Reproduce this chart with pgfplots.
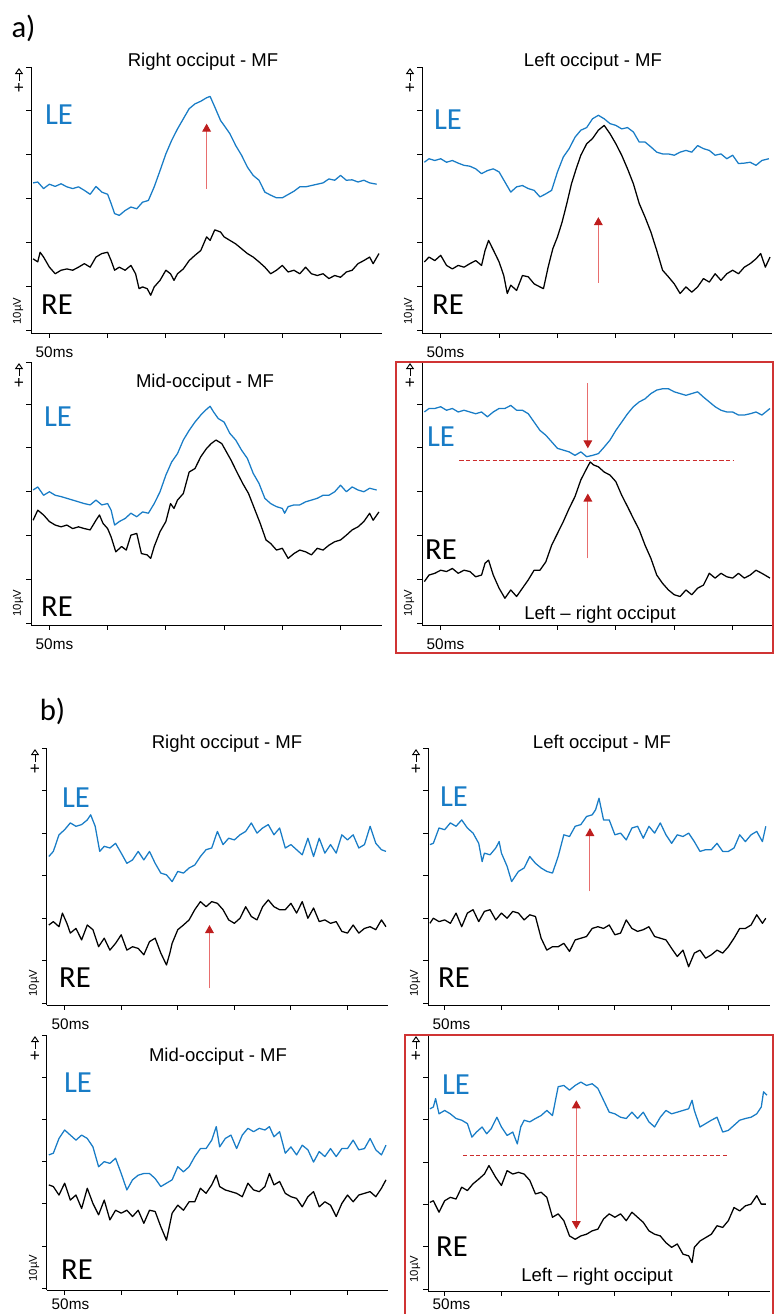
\documentclass[border=0pt]{standalone}
\usepackage{pgfplots}
\pgfplotsset{compat=1.18}
\usepackage{fontspec}
\setmainfont{Liberation Sans}
\newfontfamily\calib{Carlito}
\usetikzlibrary{arrows.meta}

\definecolor{leblue}{RGB}{24,124,198}
\definecolor{arrred}{RGB}{232,110,110}
\definecolor{headred}{RGB}{190,30,30}
\definecolor{dashred}{RGB}{205,45,45}
\definecolor{boxred}{RGB}{208,52,52}

\pgfplotsset{
  eeg/.style={scale only axis, anchor=south west,
    axis x line*=bottom, axis y line*=left,
    xtick={50,100,150,200,250,300}, ytick={0,1,2,3,4,5,6},
    xticklabels={}, yticklabels={},
    tick align=outside, major tick length=3.4pt,
    axis line style={line width=0.75pt},
    every tick/.append style={line width=0.75pt, black},
    clip=false},
  le/.style={leblue, line width=0.95pt, line join=round},
  re/.style={black, line width=0.95pt, line join=round},
}
\tikzset{
  redarrow/.style={arrred, line width=0.8pt, -{Triangle[length=6pt,width=6.5pt,color=headred]}},
  reddash/.style={dashred, line width=0.9pt, dash pattern=on 3.2pt off 1.8pt},
}

% + arrow, 10uV and 50ms marks of one panel: left x, top y, bottom y, offset of 50ms (px)
\newcommand{\deco}[4]{%
  \draw[-{Triangle[open,length=4.5pt,width=6pt]}, line width=0.7pt] (#1-12,#2+14) -- (#1-12,#2+1);
  \node[font=\fontsize{13}{13}\selectfont] at (#1-12,#2+21) {+};
  \node[rotate=90, font=\fontsize{8.5}{9}\selectfont] at (#1-13,#3-22) {10µV};
  \node[anchor=west, font=\fontsize{11.5}{12}\selectfont] at (#1,#3+#4) {50ms};
}
\newcommand{\ttl}[3]{\node[font=\fontsize{13.9}{14}\selectfont] at (#1,#2) {#3};}
\newcommand{\lab}[4]{\node[font=\calib\fontsize{23}{23}\selectfont, text=#4] at (#1,#2) {#3};}

\begin{document}
\begin{tikzpicture}

% ---------- a1 Right occiput ----------
\begin{axis}[eeg, at={(23.25pt,-249.75pt)}, width=263.25pt, height=199.5pt,
  xmin=34.2, xmax=335.6, ymin=-0.06, ymax=6]
\addplot[le] coordinates {(36,3.36)(40,3.38)(45,3.23)(50,3.33)(55,3.28)(60,3.34)(65,3.27)(70,3.23)(75,3.27)(80,3.19)(85,3.10)(90,3.28)(95,3.15)(100,3.10)(103,2.89)(106,2.66)(110,2.62)(115,2.73)(120,2.81)(125,2.77)(130,2.92)(135,2.96)(140,3.27)(145,3.64)(150,4.02)(155,4.33)(160,4.59)(165,4.82)(170,5.05)(175,5.16)(180,5.22)(185,5.30)(188,5.33)(192,5.09)(197,4.78)(200,4.67)(205,4.48)(210,4.21)(215,3.99)(220,3.72)(225,3.53)(230,3.42)(235,3.15)(240,3.08)(245,3.02)(250,3.02)(254,3.08)(260,3.17)(265,3.27)(270,3.27)(275,3.30)(280,3.33)(285,3.36)(290,3.45)(295,3.42)(300,3.53)(305,3.42)(310,3.43)(315,3.38)(320,3.42)(325,3.36)(331,3.33)};
\addplot[re] coordinates {(36,1.63)(40,1.56)(42,1.78)(45,1.67)(50,1.44)(55,1.29)(60,1.37)(65,1.40)(70,1.37)(75,1.44)(80,1.52)(85,1.44)(90,1.67)(95,1.75)(100,1.78)(103,1.59)(106,1.37)(110,1.44)(115,1.37)(120,1.48)(124,1.29)(127,0.95)(130,0.99)(134,0.95)(137,0.80)(140,0.99)(145,1.14)(150,1.37)(154,1.29)(157,1.14)(160,1.29)(165,1.40)(170,1.59)(175,1.71)(180,1.82)(185,2.13)(188,2.05)(192,2.29)(197,2.24)(200,2.13)(205,2.05)(210,1.97)(215,1.86)(220,1.75)(225,1.67)(230,1.56)(235,1.44)(240,1.29)(245,1.37)(250,1.48)(255,1.33)(260,1.37)(265,1.29)(270,1.44)(275,1.29)(280,1.25)(285,1.29)(290,1.18)(295,1.25)(300,1.21)(305,1.33)(310,1.37)(315,1.52)(320,1.59)(325,1.67)(328,1.52)(333,1.75)};
\draw[redarrow] (axis cs:185,3.23) -- (axis cs:185,4.71);
\end{axis}

% ---------- a2 Left occiput ----------
\begin{axis}[eeg, at={(316.5pt,-249.75pt)}, width=262.5pt, height=199.5pt,
  xmin=34.0, xmax=333.7, ymin=-0.06, ymax=6]
\addplot[le] coordinates {(36,3.83)(40,3.91)(45,3.87)(50,3.91)(55,3.83)(60,3.87)(65,3.81)(70,3.76)(75,3.74)(80,3.68)(85,3.57)(90,3.64)(95,3.68)(100,3.61)(105,3.38)(110,3.15)(115,3.27)(120,3.30)(125,3.23)(130,3.19)(135,3.04)(140,3.11)(145,3.19)(150,3.61)(155,3.95)(160,4.14)(165,4.40)(170,4.56)(175,4.62)(180,4.82)(185,4.90)(190,4.82)(195,4.71)(200,4.67)(205,4.59)(210,4.62)(215,4.52)(220,4.29)(225,4.29)(230,4.18)(235,4.06)(240,4.02)(245,4.02)(250,3.99)(255,4.06)(260,4.10)(265,4.06)(270,4.21)(275,4.14)(280,4.10)(285,3.99)(290,4.02)(295,3.91)(300,3.99)(305,3.80)(310,3.81)(315,3.83)(320,3.76)(325,3.87)(331,3.91)};
\addplot[re] coordinates {(36,1.56)(40,1.67)(45,1.59)(50,1.71)(55,1.48)(60,1.40)(65,1.48)(70,1.44)(75,1.52)(80,1.59)(85,1.48)(88,1.82)(91,2.05)(96,1.78)(100,1.56)(104,1.25)(107,0.84)(110,1.03)(115,0.91)(120,1.25)(125,1.22)(130,1.06)(135,0.99)(138,0.95)(142,1.44)(146,1.86)(150,2.13)(154,2.47)(158,2.89)(162,3.34)(166,3.68)(170,3.99)(175,4.25)(180,4.37)(185,4.56)(190,4.67)(195,4.48)(200,4.25)(205,3.99)(210,3.68)(215,3.34)(220,2.89)(225,2.58)(230,2.24)(235,1.82)(240,1.37)(245,1.22)(250,1.06)(255,0.84)(260,0.99)(265,0.87)(270,0.99)(275,1.18)(280,1.10)(285,1.29)(290,1.14)(295,1.29)(300,1.37)(305,1.29)(310,1.44)(315,1.52)(320,1.63)(324,1.75)(328,1.44)(332,1.67)};
\draw[redarrow] (axis cs:185,1.08) -- (axis cs:185,2.58);
\end{axis}

% ---------- a3 Mid-occiput ----------
\begin{axis}[eeg, at={(23.25pt,-468.75pt)}, width=263.25pt, height=197.25pt,
  xmin=34.2, xmax=335.6, ymin=-0.04, ymax=5.96, ytick={0,1,2,3,4,5,5.96}]
\addplot[le] coordinates {(36,3.04)(40,3.11)(45,2.92)(50,3.00)(55,2.92)(60,2.89)(65,2.85)(70,2.81)(75,2.77)(80,2.73)(85,2.70)(90,2.81)(95,2.70)(100,2.73)(103,2.58)(106,2.24)(110,2.32)(115,2.39)(120,2.51)(125,2.43)(130,2.54)(135,2.51)(140,2.73)(145,3.00)(150,3.38)(155,3.68)(160,3.87)(165,4.18)(170,4.40)(175,4.59)(180,4.75)(184,4.86)(188,4.95)(191,4.82)(195,4.67)(200,4.59)(205,4.33)(210,4.18)(215,3.95)(220,3.76)(225,3.42)(230,3.19)(235,2.85)(240,2.73)(245,2.66)(250,2.62)(252,2.51)(255,2.66)(260,2.70)(265,2.70)(270,2.77)(275,2.81)(280,2.85)(285,2.92)(290,2.92)(295,3.00)(300,3.15)(305,3.00)(310,3.11)(315,3.04)(320,3.00)(325,3.08)(331,3.04)};
\addplot[re] coordinates {(36,2.35)(40,2.58)(45,2.47)(50,2.32)(55,2.24)(60,2.20)(65,2.24)(70,2.16)(75,2.20)(80,2.16)(85,2.13)(90,2.35)(93,2.47)(96,2.28)(100,2.16)(103,1.97)(107,1.63)(112,1.75)(116,1.67)(120,2.01)(125,2.05)(129,1.59)(134,1.56)(137,1.48)(140,1.75)(145,2.09)(150,2.32)(154,2.73)(157,2.62)(160,2.81)(165,2.96)(170,3.45)(175,3.53)(180,3.80)(185,3.99)(189,4.10)(193,4.18)(198,4.10)(202,3.91)(206,3.72)(211,3.45)(216,3.19)(221,2.96)(226,2.62)(231,2.28)(236,1.90)(240,1.82)(245,1.67)(250,1.71)(255,1.48)(260,1.59)(265,1.67)(270,1.63)(275,1.56)(280,1.71)(285,1.67)(290,1.78)(295,1.86)(300,1.90)(305,2.01)(310,2.13)(315,2.20)(320,2.32)(325,2.51)(328,2.35)(333,2.54)};
\end{axis}

% ---------- a4 Left - right occiput ----------
\begin{axis}[eeg, at={(316.5pt,-468.75pt)}, width=262.5pt, height=197.25pt,
  xmin=34.0, xmax=333.7, ymin=-0.04, ymax=5.96, ytick={0,1,2,3,4,5,5.96}]
\addplot[le] coordinates {(36,4.82)(40,4.90)(45,4.90)(50,4.94)(55,4.86)(60,4.90)(65,4.82)(70,4.86)(75,4.82)(80,4.78)(85,4.82)(90,4.71)(95,4.82)(100,4.90)(105,4.90)(110,4.97)(115,4.86)(120,4.86)(125,4.78)(130,4.59)(135,4.40)(140,4.29)(145,4.14)(150,3.99)(155,3.95)(160,3.91)(165,3.83)(170,3.91)(175,3.80)(180,3.83)(185,3.87)(190,4.02)(195,4.18)(200,4.40)(205,4.59)(210,4.78)(215,4.94)(220,5.05)(225,5.12)(230,5.24)(235,5.32)(240,5.35)(245,5.35)(250,5.28)(255,5.24)(260,5.20)(265,5.24)(270,5.28)(275,5.16)(280,5.05)(285,4.94)(290,4.86)(295,4.82)(300,4.82)(305,4.75)(310,4.75)(315,4.78)(320,4.82)(325,4.75)(332,4.90)};
\addplot[re] coordinates {(36,0.95)(40,1.10)(45,1.14)(50,1.21)(55,1.18)(60,1.25)(65,1.14)(70,1.21)(75,1.18)(80,1.06)(85,1.10)(88,1.37)(91,1.44)(95,1.10)(100,0.80)(105,0.57)(110,0.76)(115,0.61)(120,0.80)(125,0.99)(130,1.21)(135,1.21)(140,1.40)(145,1.78)(150,2.05)(155,2.32)(160,2.62)(165,2.89)(170,3.27)(175,3.53)(178,3.68)(181,3.61)(185,3.57)(190,3.45)(195,3.38)(200,3.23)(205,2.92)(210,2.66)(215,2.39)(220,2.13)(225,1.78)(230,1.48)(235,1.10)(240,0.91)(245,0.76)(250,0.65)(255,0.61)(260,0.76)(265,0.65)(270,0.80)(275,0.87)(280,1.14)(285,1.03)(290,1.14)(295,1.06)(300,1.03)(305,1.14)(310,1.03)(315,1.10)(320,1.21)(325,1.14)(332,1.03)};
\draw[reddash] (axis cs:66,3.72) -- (axis cs:301,3.72);
\draw[redarrow] (axis cs:176,5.47) -- (axis cs:176,3.99);
\draw[redarrow] (axis cs:176,1.48) -- (axis cs:176,2.96);
\end{axis}

% ---------- b1 Right occiput ----------
\begin{axis}[eeg, at={(35.25pt,-753.75pt)}, width=255.75pt, height=192.75pt,
  xmin=34.4, xmax=335.8, ymin=-0.04, ymax=6]
\addplot[le] coordinates {(36,3.45)(40,3.57)(45,3.96)(50,4.08)(55,4.24)(60,4.16)(65,4.20)(70,4.31)(73,4.43)(77,4.16)(81,3.57)(85,3.69)(90,3.65)(95,3.76)(100,3.53)(105,3.29)(110,3.37)(115,3.57)(120,3.37)(125,3.57)(130,3.29)(135,3.06)(140,3.02)(145,2.86)(150,3.10)(155,3.06)(160,3.18)(165,3.25)(170,3.45)(175,3.61)(180,3.65)(185,4.04)(190,3.73)(195,3.88)(200,3.84)(205,3.96)(210,4.04)(215,4.24)(220,4.00)(225,4.12)(230,4.20)(235,3.96)(240,4.12)(245,3.65)(250,3.73)(255,3.61)(260,3.49)(265,3.88)(270,3.45)(275,3.88)(280,3.53)(285,3.73)(290,3.53)(295,3.96)(300,3.84)(305,3.96)(310,3.65)(315,3.73)(320,4.16)(325,3.76)(330,3.61)(334,3.57)};
\addplot[re] coordinates {(36,1.84)(40,1.92)(45,1.80)(48,2.12)(52,1.88)(55,1.65)(60,1.76)(65,1.49)(70,1.84)(75,1.73)(80,1.33)(85,1.53)(90,1.25)(95,1.41)(100,1.61)(105,1.25)(110,1.33)(115,1.29)(120,1.14)(125,1.45)(130,1.53)(135,1.18)(140,0.90)(143,1.18)(145,1.41)(150,1.73)(155,1.84)(160,1.96)(165,2.20)(170,2.39)(175,2.27)(180,2.39)(185,2.35)(190,2.20)(195,1.96)(200,1.88)(205,2.00)(210,2.27)(215,2.04)(220,1.96)(225,2.27)(230,2.43)(235,2.27)(240,2.20)(245,2.20)(250,2.35)(255,2.12)(260,2.39)(265,2.00)(270,2.24)(275,1.92)(280,1.96)(285,1.88)(290,1.92)(295,1.69)(300,1.65)(305,1.84)(310,1.65)(315,1.76)(320,1.80)(325,1.73)(330,1.96)(334,1.80)};
\draw[redarrow] (axis cs:178,0.35) -- (axis cs:178,1.84);
\end{axis}

% ---------- b2 Left occiput ----------
\begin{axis}[eeg, at={(321pt,-753.75pt)}, width=256.5pt, height=192.75pt,
  xmin=35.3, xmax=336.7, ymin=-0.04, ymax=6]
\addplot[le] coordinates {(37,3.73)(40,3.76)(45,4.12)(50,4.08)(55,4.24)(60,4.16)(65,4.31)(70,4.12)(75,4.00)(80,3.76)(83,3.33)(85,3.53)(90,3.49)(95,3.65)(98,3.80)(100,3.53)(105,3.22)(109,2.86)(115,3.10)(120,3.18)(125,3.45)(130,3.29)(135,3.18)(140,3.10)(145,3.06)(150,3.45)(155,3.96)(160,3.92)(165,4.16)(170,4.20)(175,4.39)(180,4.43)(183,4.55)(186,4.82)(190,4.31)(195,4.31)(200,3.96)(205,4.00)(210,3.84)(215,4.12)(220,4.16)(225,3.88)(230,4.16)(235,4.00)(240,4.24)(245,3.96)(250,3.76)(255,3.96)(260,3.92)(265,4.00)(270,3.80)(275,3.57)(280,3.61)(285,3.61)(290,3.76)(295,3.57)(300,3.57)(305,3.65)(310,3.96)(315,3.80)(320,3.96)(325,4.04)(330,3.80)(333,4.16)};
\addplot[re] coordinates {(37,1.88)(40,2.00)(45,1.92)(50,1.96)(55,1.88)(60,2.12)(65,1.80)(70,2.12)(75,2.20)(80,1.92)(85,2.16)(90,2.20)(95,1.96)(100,2.12)(105,2.00)(110,2.16)(115,2.12)(120,1.96)(125,2.08)(130,2.04)(135,1.53)(140,1.25)(145,1.33)(150,1.33)(155,1.41)(160,1.22)(165,1.49)(170,1.53)(175,1.57)(180,1.76)(185,1.80)(190,1.76)(195,1.84)(200,1.61)(205,1.65)(210,1.96)(215,1.76)(220,1.69)(225,1.73)(230,1.80)(235,1.57)(240,1.53)(245,1.49)(250,1.29)(255,1.10)(260,1.25)(265,0.86)(270,1.18)(275,1.25)(280,1.06)(285,1.14)(290,1.25)(295,1.18)(300,1.33)(305,1.53)(310,1.76)(315,1.76)(320,1.84)(325,2.08)(330,1.88)(333,2.00)};
\draw[redarrow] (axis cs:178,2.63) -- (axis cs:178,4.12);
\end{axis}

% ---------- b3 Mid-occiput ----------
\begin{axis}[eeg, at={(35.25pt,-967.5pt)}, width=255.75pt, height=191.25pt,
  xmin=34.4, xmax=335.8, ymin=-0.04, ymax=6]
\addplot[le] coordinates {(36,3.16)(40,3.20)(45,3.55)(50,3.75)(55,3.63)(60,3.51)(65,3.63)(70,3.55)(75,3.35)(80,2.88)(85,3.00)(90,2.96)(95,3.08)(100,2.72)(105,2.33)(110,2.57)(115,2.68)(120,2.72)(125,2.72)(130,2.60)(135,2.41)(140,2.49)(145,2.57)(150,2.88)(155,2.76)(160,2.88)(165,3.12)(170,3.31)(175,3.31)(180,3.51)(184,3.83)(187,3.35)(192,3.55)(197,3.63)(202,3.31)(207,3.63)(212,3.79)(217,3.71)(222,3.79)(227,3.75)(231,3.83)(235,3.59)(240,3.71)(245,3.20)(250,3.35)(255,3.16)(260,3.39)(265,3.28)(270,2.99)(275,3.24)(280,3.12)(285,3.31)(290,3.12)(295,3.31)(300,3.31)(305,3.51)(310,3.28)(315,3.31)(320,3.55)(325,3.28)(330,3.16)(334,3.39)};
\addplot[re] coordinates {(36,2.45)(40,2.41)(45,2.21)(50,2.49)(55,2.09)(60,2.21)(65,1.89)(70,2.37)(75,2.01)(80,1.74)(85,2.09)(90,1.62)(95,1.85)(100,1.78)(105,1.85)(110,1.70)(115,1.85)(120,1.54)(125,1.85)(130,1.82)(135,1.46)(140,1.14)(145,1.78)(150,1.97)(155,1.85)(160,2.05)(165,2.05)(170,2.37)(175,2.25)(180,2.45)(184,2.68)(187,2.41)(192,2.33)(197,2.29)(202,2.25)(207,2.17)(212,2.49)(217,2.33)(222,2.29)(227,2.41)(231,2.72)(235,2.45)(240,2.53)(245,2.25)(250,2.17)(255,2.13)(260,1.93)(265,2.17)(270,2.29)(275,1.93)(280,2.05)(285,1.97)(290,1.70)(295,2.01)(300,2.21)(305,2.05)(310,2.21)(315,2.25)(320,2.29)(325,2.17)(330,2.37)(334,2.57)};
\end{axis}

% ---------- b4 Left - right occiput ----------
\begin{axis}[eeg, at={(321pt,-968.25pt)}, width=256.5pt, height=192pt,
  xmin=35.3, xmax=336.7, ymin=-0.04, ymax=6]
\addplot[le] coordinates {(37,4.26)(40,4.30)(42,4.50)(45,4.14)(50,4.22)(55,4.14)(60,4.03)(65,3.99)(70,3.91)(74,3.59)(78,3.71)(83,3.83)(87,3.67)(91,3.79)(96,4.06)(100,3.83)(105,3.63)(110,3.71)(114,3.43)(117,3.83)(120,3.99)(125,3.95)(130,4.03)(135,4.10)(140,4.22)(145,4.10)(150,4.78)(155,4.81)(160,4.70)(165,4.81)(170,4.89)(175,4.81)(180,4.85)(185,4.74)(190,4.46)(195,4.18)(200,4.14)(205,4.06)(210,4.03)(215,4.18)(220,4.03)(225,4.18)(230,3.95)(235,3.83)(240,4.06)(245,4.22)(250,4.14)(255,4.18)(260,4.22)(265,4.26)(268,4.46)(270,4.22)(275,3.83)(280,3.91)(285,3.99)(290,4.06)(295,3.71)(300,3.75)(305,3.87)(310,3.99)(315,4.03)(320,4.06)(325,4.14)(329,4.30)(331,4.66)(334,4.58)};
\addplot[re] coordinates {(37,2.05)(40,2.09)(45,1.82)(50,2.09)(55,2.17)(60,2.13)(65,2.41)(70,2.33)(75,2.49)(80,2.60)(85,2.72)(89,2.92)(95,2.64)(100,2.45)(105,2.80)(110,2.72)(115,2.76)(120,2.72)(125,2.57)(130,2.25)(135,2.29)(140,2.17)(145,1.70)(150,1.78)(155,1.62)(160,1.26)(165,1.18)(170,1.26)(175,1.30)(180,1.38)(185,1.42)(190,1.66)(195,1.78)(200,1.70)(205,1.78)(210,1.62)(215,1.82)(220,1.70)(225,1.58)(230,1.38)(235,1.30)(240,1.26)(245,1.10)(250,0.99)(255,1.07)(260,0.83)(265,0.79)(268,0.63)(270,0.99)(275,1.14)(280,1.22)(285,1.30)(290,1.50)(295,1.46)(300,1.62)(305,1.93)(310,1.85)(315,1.97)(320,2.01)(325,2.21)(329,2.01)(333,2.01)};
\draw[reddash] (axis cs:66,3.16) -- (axis cs:300,3.16);
\draw[arrred, line width=0.8pt, {Triangle[length=6pt,width=6.5pt,color=headred]}-{Triangle[length=6pt,width=6.5pt,color=headred]}] (axis cs:166,1.42) -- (axis cs:166,4.46);
\end{axis}

% decorations, titles, labels (px positions, y down)
\begin{scope}[x=0.75pt, y=-0.75pt]
\useasboundingbox (0,0) rectangle (775,1314);

\node[font=\calib\fontsize{23}{23}\selectfont] at (23.5,28) {a)};
\node[font=\calib\fontsize{23}{23}\selectfont] at (52.5,711) {b)};

\deco{31}{67}{333}{19}
\deco{422}{67}{333}{19}
\deco{31}{362}{625}{19}
\deco{422}{362}{625}{19}
\deco{47}{748}{1005}{19}
\deco{428}{748}{1005}{19}
\deco{47}{1035}{1290}{14}
\deco{428}{1035}{1291}{13}

\ttl{203}{62}{Right occiput - MF}
\ttl{593}{62}{Left occiput - MF}
\ttl{205}{383}{Mid-occiput - MF}
\ttl{600}{615}{Left -- right occiput}
\ttl{227}{744}{Right occiput - MF}
\ttl{602}{744}{Left occiput - MF}
\ttl{218}{1057}{Mid-occiput - MF}
\ttl{597}{1277}{Left -- right occiput}

\lab{59}{115}{LE}{leblue}  \lab{57}{305}{RE}{black}
\lab{448}{120}{LE}{leblue} \lab{448}{305}{RE}{black}
\lab{58}{417}{LE}{leblue}  \lab{57}{607}{RE}{black}
\lab{441}{437}{LE}{leblue} \lab{441}{550}{RE}{black}
\lab{76}{798}{LE}{leblue}  \lab{75}{978}{RE}{black}
\lab{454}{797}{LE}{leblue} \lab{454}{978}{RE}{black}
\lab{78}{1083}{LE}{leblue} \lab{77}{1270}{RE}{black}
\lab{456}{1085}{LE}{leblue} \lab{452}{1247}{RE}{black}

\draw[boxred, line width=0.9pt] (396,362) rectangle (773,653);
\draw[boxred, line width=0.9pt] (405,1035) rectangle (773,1330);
\end{scope}
\end{tikzpicture}
\end{document}
